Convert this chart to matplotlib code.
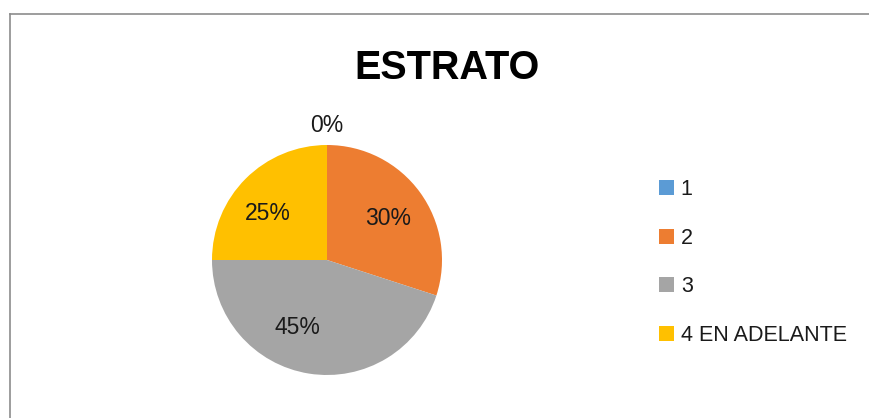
import matplotlib
matplotlib.use("Agg")
import matplotlib.pyplot as plt
from matplotlib.lines import Line2D
from matplotlib.patches import Patch
import numpy as np

categories = ["1", "2", "3", "4 EN ADELANTE"]
values = [0, 30, 45, 25]
pct_labels = ["0%", "30%", "45%", "25%"]
colors = ["#5B9BD5", "#ED7D31", "#A5A5A5", "#FFC000"]
title = "ESTRATO"

# label placement (angle in degrees, radius as fraction of pie radius)
label_pos = [(90, 1.17), (34, 0.64), (-114, 0.64), (142, 0.65)]

W, H = 869, 418
fig = plt.figure(figsize=(W / 100, H / 100), dpi=100)
fig.patch.set_facecolor("white")
plt.rcParams['font.family'] = ['Liberation Sans', 'DejaVu Sans']

cx, cy, R = 327, 260, 115
ax = fig.add_axes([(cx - R) / W, (H - cy - R) / H, 2 * R / W, 2 * R / H])
wedges, _ = ax.pie(values, colors=colors, startangle=90, counterclock=False,
                   radius=1, wedgeprops=dict(linewidth=0))
ax.set_xlim(-1, 1)
ax.set_ylim(-1, 1)
ax.set_aspect("equal")
ax.axis("off")

for (ang, r), txt in zip(label_pos, pct_labels):
    a = np.deg2rad(ang)
    ax.text(r * np.cos(a), r * np.sin(a), txt, ha="center", va="center",
            fontsize=16.5, color="#1a1a1a", clip_on=False)

fig.text(447 / W, 1 - 68 / H, title, ha="center", va="center",
         fontsize=28.5, fontweight="bold", color="black")

handles = [Patch(facecolor=c, edgecolor="none") for c in colors]
fig.legend(handles, categories, loc="center left",
           bbox_to_anchor=(659 / W, 1 - 262.5 / H), frameon=False,
           fontsize=15.5, handlelength=0.68, handleheight=0.68,
           handletextpad=0.33, labelspacing=1.28, borderpad=0,
           borderaxespad=0, labelcolor="#1a1a1a")

# chart area border (top and left visible)
fig.add_artist(Line2D([9.5 / W, 1], [1 - 13.5 / H, 1 - 13.5 / H],
                      color="#8c8c8c", linewidth=1.2, transform=fig.transFigure))
fig.add_artist(Line2D([9.5 / W, 9.5 / W], [0, 1 - 13.5 / H],
                      color="#8c8c8c", linewidth=1.2, transform=fig.transFigure))

fig.savefig("out.png", dpi=100, facecolor="white")
